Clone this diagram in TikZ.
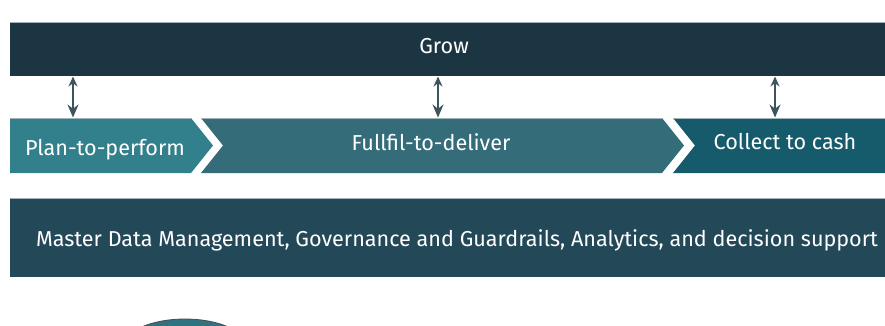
\documentclass[tikz,border=0pt]{standalone}
\usepackage{fontspec}
\setmainfont{Fira Sans}
\usetikzlibrary{arrows.meta}
\definecolor{growc}{HTML}{1B3642}
\definecolor{cone}{HTML}{33808D}
\definecolor{ctwo}{HTML}{346C7A}
\definecolor{cthree}{HTML}{165B6B}
\definecolor{mdmc}{HTML}{234858}
\definecolor{edgec}{HTML}{9FB3BB}
\definecolor{arrc}{HTML}{1B3642}
\tikzset{
  lbl/.style={text=white, font=\fontsize{21.6}{25}\selectfont, inner sep=0pt},
  band/.style={draw=edgec, line width=0.5pt},
  vlink/.style={draw=arrc!85!white, line width=1.3pt, {Stealth[length=10pt,width=9pt]}-{Stealth[length=13pt,width=11pt]}},
}
\begin{document}
\begin{tikzpicture}[x=1pt,y=-1pt]
\useasboundingbox (0,0) rectangle (885,325);
\begin{scope}
\clip (0,0) rectangle (885,325);
% Grow bar
\fill[growc] (10,22) rectangle (885,76);
\draw[band] (10,22) -- (885,22);
\node[lbl] (grow) at (444,46) {Grow};
% chevrons
\fill[cone] (10,118) -- (191,118) -- (213,145.5) -- (191,173) -- (10,173) -- cycle;
\fill[ctwo] (201,118) -- (662,118) -- (684,145.5) -- (662,173) -- (201,173) -- (223,145.5) -- cycle;
\fill[cthree] (673,118) -- (885,118) -- (885,173) -- (673,173) -- (695,145.5) -- cycle;
\draw[band] (10,118) -- (191,118) (201,118) -- (662,118) (673,118) -- (885,118);
\node[lbl] (plan) at (105,150) {Plan-to-perform};
\node[lbl] (full) at (431,142) {Fullfil-to-deliver};
\node[lbl] (coll) at (785,142) {Collect to cash};
% arrow anchors
\coordinate (a1t) at (73,76.5);
\coordinate (a1b) at (73,117.5);
\coordinate (a2t) at (438,76.5);
\coordinate (a2b) at (438,117.5);
\coordinate (a3t) at (775,76.5);
\coordinate (a3b) at (775,117.5);
\draw[vlink] (a1t) -- (a1b);
\draw[vlink] (a2t) -- (a2b);
\draw[vlink] (a3t) -- (a3b);
% MDM bar
\fill[mdmc] (10,198) rectangle (885,277);
\draw[band] (10,198) -- (885,198);
\node[lbl] (mdm) at (457,240) {Master Data Management, Governance and Guardrails, Analytics, and decision support};
% partial ellipse at bottom
\fill[cone!90!black] (185,347) ellipse (62 and 28);
\draw[black!70, line width=0.8pt] (185,347) ellipse (62 and 28);
\end{scope}
\end{tikzpicture}
\end{document}
